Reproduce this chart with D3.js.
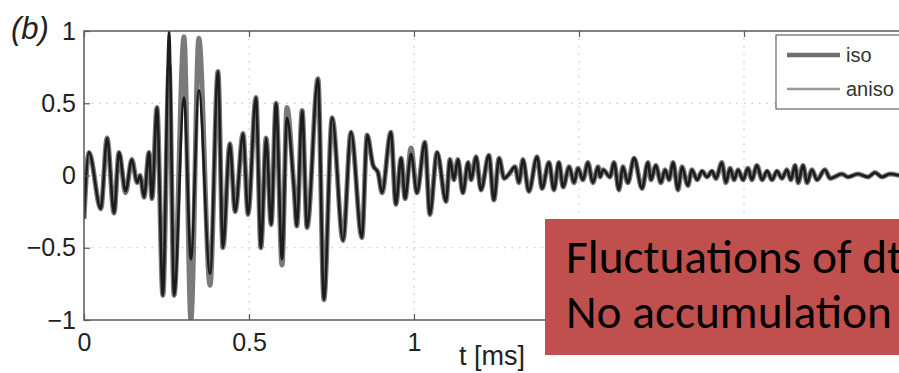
<!DOCTYPE html>
<html>
<head>
<meta charset="utf-8">
<script src="https://cdn.jsdelivr.net/npm/d3@7"></script>
<style>
  html, body { margin: 0; padding: 0; background: #fff; overflow: hidden; }
  svg { display: block; }
</style>
</head>
<body>
<div id="chart"></div>
<script>
// time of each turning point of the waveform (ms)
const timeMs = [
  0.000, 0.015, 0.051, 0.070, 0.091, 0.106, 0.126, 0.145, 0.161, 0.170,
  0.182, 0.197, 0.206, 0.221, 0.239, 0.258, 0.273, 0.303, 0.324, 0.348,
  0.382, 0.406, 0.421, 0.442, 0.458, 0.482, 0.497, 0.521, 0.536, 0.552,
  0.567, 0.582, 0.600, 0.615, 0.636, 0.645, 0.661, 0.676, 0.709, 0.727,
  0.752, 0.785, 0.809, 0.842, 0.858, 0.876, 0.891, 0.903, 0.930, 0.945,
  0.961, 0.973, 0.991, 1.009, 1.033, 1.048, 1.070, 1.097, 1.109, 1.121,
  1.133, 1.148, 1.164, 1.173, 1.188, 1.203, 1.227, 1.242, 1.258, 1.273,
  1.288, 1.306, 1.318, 1.330, 1.348, 1.373, 1.388, 1.409, 1.424, 1.439,
  1.452, 1.470, 1.485, 1.497, 1.512, 1.527, 1.542, 1.558, 1.564, 1.573,
  1.594, 1.606, 1.621, 1.633, 1.648, 1.667, 1.691, 1.709, 1.718, 1.733,
  1.748, 1.761, 1.773, 1.785, 1.800, 1.812, 1.830, 1.842, 1.858, 1.873,
  1.888, 1.903, 1.915, 1.933, 1.945, 1.958, 1.970, 1.982, 1.997, 2.012,
  2.024, 2.039, 2.055, 2.070, 2.085, 2.100, 2.115, 2.130, 2.142, 2.155,
  2.164, 2.179, 2.191, 2.206, 2.221, 2.245, 2.261, 2.297, 2.315, 2.345,
  2.376, 2.397, 2.418, 2.442, 2.470
];

const isoVals = [
  -0.30, 0.16, -0.23, 0.26, -0.26, 0.16, -0.12, 0.11, -0.05, 0.00,
  -0.15, 0.16, -0.16, 0.47, -0.83, 0.76, -0.83, 0.96, -1.00, 0.95,
  -0.76, 0.72, -0.50, 0.22, -0.25, 0.29, -0.27, 0.54, -0.50, 0.26,
  -0.34, 0.50, -0.62, 0.47, -0.08, -0.35, 0.45, -0.36, 0.67, -0.86,
  0.40, -0.45, 0.30, -0.43, 0.28, 0.07, 0.02, -0.12, 0.30, -0.20,
  0.12, -0.16, 0.19, -0.12, 0.23, -0.27, 0.16, -0.18, 0.11, -0.03,
  0.11, -0.12, 0.09, -0.03, 0.13, -0.10, 0.14, -0.17, 0.12, -0.02,
  0.01, 0.06, -0.05, 0.11, -0.11, 0.13, -0.09, 0.09, -0.10, 0.09,
  -0.08, 0.06, -0.05, 0.05, -0.03, 0.09, -0.05, 0.06, -0.01, 0.04,
  -0.01, 0.09, -0.10, 0.06, -0.05, 0.12, -0.09, 0.09, -0.03, 0.07,
  -0.05, 0.04, -0.03, 0.09, -0.10, 0.06, -0.07, 0.04, -0.03, 0.03,
  -0.01, 0.03, -0.02, 0.09, -0.05, 0.05, -0.03, 0.04, -0.03, 0.05,
  -0.03, 0.07, -0.03, 0.03, -0.03, 0.03, -0.02, 0.04, -0.03, 0.07,
  -0.05, 0.07, -0.05, 0.04, -0.03, 0.04, -0.02, 0.01, -0.01, 0.01,
  -0.01, 0.02, -0.01, 0.01, 0.00
];

const anisoVals = [
  -0.30, 0.16, -0.23, 0.26, -0.26, 0.16, -0.11, 0.11, -0.05, 0.00,
  -0.15, 0.16, -0.16, 0.47, -0.83, 1.00, -0.83, 0.54, -0.58, 0.59,
  -0.68, 0.72, -0.50, 0.22, -0.25, 0.29, -0.27, 0.54, -0.50, 0.26,
  -0.34, 0.50, -0.58, 0.40, -0.08, -0.35, 0.45, -0.36, 0.67, -0.86,
  0.40, -0.45, 0.30, -0.43, 0.28, 0.07, 0.02, -0.12, 0.30, -0.20,
  0.12, -0.16, 0.15, -0.12, 0.23, -0.27, 0.16, -0.18, 0.11, -0.03,
  0.11, -0.12, 0.09, -0.03, 0.13, -0.10, 0.14, -0.17, 0.12, -0.02,
  0.01, 0.06, -0.05, 0.11, -0.11, 0.13, -0.09, 0.09, -0.10, 0.09,
  -0.08, 0.06, -0.05, 0.05, -0.03, 0.09, -0.05, 0.06, -0.01, 0.04,
  -0.01, 0.09, -0.10, 0.06, -0.05, 0.12, -0.09, 0.09, -0.03, 0.07,
  -0.05, 0.04, -0.03, 0.09, -0.10, 0.06, -0.07, 0.04, -0.03, 0.03,
  -0.01, 0.03, -0.02, 0.09, -0.05, 0.05, -0.03, 0.04, -0.03, 0.05,
  -0.03, 0.07, -0.03, 0.03, -0.03, 0.03, -0.02, 0.04, -0.03, 0.07,
  -0.05, 0.07, -0.05, 0.04, -0.03, 0.04, -0.02, 0.01, -0.01, 0.01,
  -0.01, 0.02, -0.01, 0.01, 0.00
];

const xTicks = [0, 0.5, 1, 1.5, 2];
const xTickLabels = ['0', '0.5', '1', '', '']; // 1.5 and 2 sit under the note box
const yTicks = [-1, -0.5, 0, 0.5, 1];
const legendLabels = ['iso', 'aniso'];
const noteLines = ['Fluctuations of dt', 'No accumulation'];

const width = 899, height = 373;
const plotLeft = 84, plotTop = 31, plotBottom = 320;
const plotRight = plotLeft + 2.5 * 330; // runs past the right edge of the picture

const svg = d3.select('#chart').append('svg').attr('width', width).attr('height', height);

const x = d3.scaleLinear().domain([0, 2.5]).range([plotLeft, plotRight]);
const y = d3.scaleLinear().domain([-1, 1]).range([plotBottom, plotTop]);

const tickFont = '"Liberation Sans", Arial, Helvetica, sans-serif';

// dotted grid
svg.append('g')
  .selectAll('line')
  .data(xTicks.filter(d => d > 0))
  .enter()
  .append('line')
  .attr('x1', d => x(d)).attr('x2', d => x(d))
  .attr('y1', plotTop).attr('y2', plotBottom)
  .style('stroke', '#bbb')
  .style('stroke-width', 1)
  .style('stroke-dasharray', '1.5,6');

svg.append('g')
  .selectAll('line')
  .data(yTicks.filter(d => d > -1 && d < 1))
  .enter()
  .append('line')
  .attr('x1', plotLeft).attr('x2', plotRight)
  .attr('y1', d => y(d)).attr('y2', d => y(d))
  .style('stroke', '#bbb')
  .style('stroke-width', 1)
  .style('stroke-dasharray', '1.5,6');

// waveforms
svg.append('clipPath').attr('id', 'plotClip')
  .append('rect')
  .attr('x', plotLeft).attr('y', plotTop)
  .attr('width', plotRight - plotLeft).attr('height', plotBottom - plotTop);

const line = d3.line()
  .x(d => x(d[0]))
  .y(d => y(d[1]))
  .curve(d3.curveMonotoneX);

const waves = svg.append('g').attr('clip-path', 'url(#plotClip)');

waves.append('path')
  .datum(timeMs.map((t, i) => [t, isoVals[i]]))
  .attr('d', line)
  .style('fill', 'none')
  .style('stroke', '#7a7a7a')
  .style('stroke-width', 5)
  .style('stroke-linejoin', 'round');

waves.append('path')
  .datum(timeMs.map((t, i) => [t, anisoVals[i]]))
  .attr('d', line)
  .style('fill', 'none')
  .style('stroke', '#1c1c1c')
  .style('stroke-width', 2.6)
  .style('stroke-linejoin', 'round');

// axes box with inward ticks
const axisColor = '#5a5a5a';

svg.append('rect')
  .attr('x', plotLeft).attr('y', plotTop)
  .attr('width', plotRight - plotLeft).attr('height', plotBottom - plotTop)
  .style('fill', 'none')
  .style('stroke', axisColor)
  .style('stroke-width', 1.5);

const xAxis = svg.append('g')
  .attr('transform', `translate(0,${plotBottom})`)
  .call(d3.axisBottom(x).tickValues(xTicks).tickSizeInner(-6).tickSizeOuter(0).tickPadding(16)
    .tickFormat((d, i) => xTickLabels[i]));

const xAxisTop = svg.append('g')
  .attr('transform', `translate(0,${plotTop})`)
  .call(d3.axisTop(x).tickValues(xTicks).tickSizeInner(-6).tickSizeOuter(0).tickFormat(''));

const yAxis = svg.append('g')
  .attr('transform', `translate(${plotLeft},0)`)
  .call(d3.axisLeft(y).tickValues(yTicks).tickSizeInner(-6).tickSizeOuter(0).tickPadding(8)
    .tickFormat(d => d3.format('')(d).replace('-', '\u2212')));

[xAxis, xAxisTop, yAxis].forEach(g => {
  g.select('.domain').remove();
  g.selectAll('.tick line').style('stroke', axisColor).style('stroke-width', 1.2);
  g.selectAll('.tick text')
    .style('font-family', tickFont)
    .style('font-size', '25px')
    .style('fill', '#222');
});

xAxis.selectAll('.tick text').attr('dy', '0.6em');

svg.append('text')
  .attr('x', 492).attr('y', 365)
  .attr('text-anchor', 'middle')
  .style('font-family', tickFont)
  .style('font-size', '27px')
  .style('fill', '#222')
  .text('t [ms]');

svg.append('text')
  .attr('x', 11).attr('y', 39)
  .style('font-family', tickFont)
  .style('font-size', '31px')
  .style('font-style', 'italic')
  .style('fill', '#222')
  .text('(b)');

// legend
const legend = svg.append('g');
legend.append('rect')
  .attr('x', 776).attr('y', 35)
  .attr('width', 160).attr('height', 74)
  .style('fill', '#fff')
  .style('stroke', '#666')
  .style('stroke-width', 1.2);

const legendStyles = [
  { color: '#6e6e6e', w: 4.5 },
  { color: '#9a9a9a', w: 2.5 }
];

legend.selectAll('line.key')
  .data(legendLabels)
  .enter()
  .append('line')
  .attr('class', 'key')
  .attr('x1', 787).attr('x2', 840)
  .attr('y1', (d, i) => 55 + i * 34).attr('y2', (d, i) => 55 + i * 34)
  .style('stroke', (d, i) => legendStyles[i].color)
  .style('stroke-width', (d, i) => legendStyles[i].w);

legend.selectAll('text')
  .data(legendLabels)
  .enter()
  .append('text')
  .attr('x', 846)
  .attr('y', (d, i) => 62 + i * 34)
  .style('font-family', tickFont)
  .style('font-size', '20px')
  .style('fill', '#333')
  .text(d => d);

// red note box on top
svg.append('rect')
  .attr('x', 545).attr('y', 219)
  .attr('width', 400).attr('height', 136)
  .style('fill', '#c0504d');

const note = svg.selectAll('text.note')
  .data(noteLines)
  .enter()
  .append('text')
  .attr('class', 'note')
  .attr('x', 566)
  .attr('y', (d, i) => 273 + i * 55)
  .style('font-family', 'Carlito, Calibri, Lato, "Open Sans", sans-serif')
  .style('font-size', '40px')
  .style('fill', '#000')
  .text(d => d);

// fit the font so the second line spans the same width as in the slide
const probe = note.filter((d, i) => i === 1).node();
const fitted = 40 * 326 / probe.getComputedTextLength();
note.style('font-size', fitted + 'px');
</script>
</body>
</html>
